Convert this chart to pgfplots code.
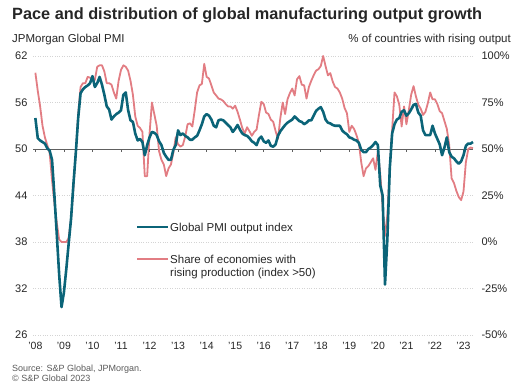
\documentclass[border=0pt]{standalone}
\usepackage{fontspec}
\setmainfont{Liberation Sans}
\usepackage{pgfplots}
\pgfplotsset{compat=1.18}
\definecolor{tealc}{HTML}{0B6478}
\definecolor{pinkc}{HTML}{E27D83}
\definecolor{gridc}{HTML}{D4D4D4}
\definecolor{txtc}{HTML}{262626}
\definecolor{srcc}{HTML}{595959}
\begin{document}
\begin{tikzpicture}[x=1pt,y=1pt]
\useasboundingbox (0,0) rectangle (521,386);
% right axis: share of economies (%), grid
\begin{axis}[
  at={(33pt,51pt)}, anchor=south west,
  scale only axis, width=440pt, height=279pt,
  xmin=-1, xmax=184, ymin=-50, ymax=100,
  axis y line*=right, axis x line=none,
  axis line style={draw=none},
  major tick length=0pt,
  ytick={-50,-25,0,25,50,75,100},
  yticklabels={-50\%,-25\%,0\%,25\%,50\%,75\%,100\%},
  yticklabel style={font=\fontsize{11}{12}\selectfont, text=txtc, anchor=west, xshift=5pt},
  ymajorgrids, grid style={gridc, dotted, line width=0.8pt},
  extra y ticks={50}, extra y tick labels={},
  extra y tick style={grid style={solid, draw=gray!75!black, line width=0.9pt}},
  clip=false,
]
\addplot[pinkc, line width=1.8pt, line join=round] coordinates {
(0,91) (1,81.3) (2,72.9) (3,62.5) (4,56.3) (5,52.1) (6,47.9) (7,33.3) (8,20.8) (9,10.4)
(10,1.3) (11,0) (12,0) (13,0) (14,2.1) (15,12.5) (16,29.2) (17,47.9) (18,68.8) (19,83.3)
(20,85.4) (21,85.4) (22,88.8) (23,88.3) (24,88.3) (25,87.1) (26,94.2) (27,95) (28,95) (29,91.7)
(30,85.4) (31,85.4) (32,84.6) (33,80.4) (34,77.1) (35,86.7) (36,92.5) (37,95) (38,94.2) (39,92.1)
(40,86.7) (41,79.2) (42,67.5) (43,62.5) (44,61.3) (45,59.2) (46,35.4) (47,35.4) (48,58.3) (49,75)
(50,68.8) (51,62.5) (52,48.8) (53,44.2) (54,41.7) (55,35.4) (56,39.6) (57,41.7) (58,47.9) (59,56.3)
(60,52.5) (61,51.3) (62,52.1) (63,56.7) (64,63.3) (65,63.8) (66,62.1) (67,70.8) (68,80.4) (69,84.2)
(70,85) (71,95.8) (72,88.8) (73,87.9) (74,84.2) (75,80.4) (76,78.8) (77,77.1) (78,76.7) (79,75.8)
(80,74.2) (81,72.9) (82,72.9) (83,71.7) (84,73.3) (85,70) (86,65.8) (87,61.3) (88,58.3) (89,61.7)
(90,59.6) (91,57.1) (92,59.2) (93,60.4) (94,68.3) (95,75.4) (96,74.2) (97,69.6) (98,68.8) (99,65.8)
(100,64.6) (101,59.6) (102,55.4) (103,66.7) (104,75) (105,68.8) (106,76.7) (107,80) (108,82.5) (109,78.8)
(110,87.5) (111,89.2) (112,84.6) (113,84.2) (114,77.1) (115,83.3) (116,86.7) (117,89.6) (118,92.1) (119,92.9)
(120,94.6) (121,100) (122,94.6) (123,89.6) (124,90.8) (125,86.3) (126,83.3) (127,82.5) (128,80.4) (129,77.1)
(130,72.1) (131,69.2) (132,59.2) (133,62.5) (134,60.8) (135,57.5) (136,53.3) (137,42.9) (138,35.4) (139,39.6)
(140,40.8) (141,42.9) (142,45) (143,38.8) (144,48.8) (145,36.7) (146,18.8) (147,3.3) (148,14.6) (149,39.6)
(150,60.4) (151,80.4) (152,78.3) (153,73.8) (154,62.1) (155,72.9) (156,63.3) (157,70.8) (158,79.2) (159,83.8)
(160,78.3) (161,73.8) (162,71.7) (163,68.3) (164,70) (165,74.6) (166,80.4) (167,76.7) (168,76.7) (169,74.2)
(170,70.4) (171,69.2) (172,65) (173,60.8) (174,52.1) (175,34.2) (176,31.7) (177,27.5) (178,24.2) (179,22.5)
(180,27.1) (181,42.9) (182,50) (183,50.8) (184,50.4)
};
\end{axis}
% left axis: PMI
\begin{axis}[
  at={(33pt,51pt)}, anchor=south west,
  scale only axis, width=440pt, height=279pt,
  xmin=-1, xmax=184, ymin=26, ymax=62,
  axis y line*=left, axis x line*=bottom,
  axis line style={draw=none},
  major tick length=0pt,
  ytick={26,32,38,44,50,56,62},
  yticklabel style={font=\fontsize{11}{12}\selectfont, text=txtc, xshift=-2pt},
  xtick={0,12,24,36,48,60,72,84,96,108,120,132,144,156,168,180},
  xticklabels={'08,'09,'10,'11,'12,'13,'14,'15,'16,'17,'18,'19,'20,'21,'22,'23},
  xticklabel style={font=\fontsize{10.5}{12}\selectfont, text=txtc, yshift=-4pt},
  /pgf/number format/assume math mode=true,
  clip=false,
]
\pgfplotsinvokeforeach{0,12,24,36,48,60,72,84,96,108,120,132,144,156,168,180}{
  \draw[gray!75!black, line width=0.6pt] (axis cs:#1,50) -- ([yshift=-3pt]axis cs:#1,50);
}
\addplot[tealc, line width=2.6pt, line join=round] coordinates {
(0,54.0) (1,51.4) (2,51.1) (3,50.9) (4,50.7) (5,50.1) (6,49.8) (7,48.6) (8,44.0) (9,39.0)
(10,33.8) (11,29.6) (12,31.5) (13,34.5) (14,37.8) (15,41.0) (16,45.5) (17,49.5) (18,54.0) (19,57.2)
(20,57.7) (21,58.0) (22,58.2) (23,58.5) (24,59.4) (25,58.0) (26,58.5) (27,59.3) (28,58.3) (29,57.0)
(30,55.5) (31,55.1) (32,53.8) (33,54.2) (34,54.5) (35,54.7) (36,55.0) (37,57.0) (38,57.3) (39,55.0)
(40,53.7) (41,53.5) (42,52.0) (43,51.1) (44,51.3) (45,50.9) (46,49.2) (47,50.5) (48,51.5) (49,52.2)
(50,52.1) (51,51.8) (52,51.0) (53,50.5) (54,49.5) (55,49.0) (56,48.6) (57,48.6) (58,49.9) (59,50.5)
(60,52.4) (61,51.8) (62,52.0) (63,51.7) (64,51.5) (65,51.2) (66,51.2) (67,51.5) (68,51.7) (69,52.4)
(70,53.2) (71,54.2) (72,54.5) (73,54.3) (74,53.8) (75,53.0) (76,52.8) (77,53.7) (78,53.8) (79,53.7)
(80,53.4) (81,53.1) (82,52.8) (83,52.2) (84,52.6) (85,53.1) (86,52.5) (87,52.0) (88,51.8) (89,51.7)
(90,51.4) (91,51.0) (92,50.8) (93,50.5) (94,51.3) (95,51.6) (96,51.0) (97,50.8) (98,51.1) (99,50.4)
(100,50.3) (101,50.6) (102,51.7) (103,52.3) (104,52.7) (105,53.1) (106,53.4) (107,53.6) (108,53.8) (109,54.2)
(110,53.9) (111,53.6) (112,53.5) (113,53.2) (114,53.4) (115,53.7) (116,53.7) (117,54.3) (118,54.9) (119,55.2)
(120,55.4) (121,54.8) (122,53.8) (123,53.4) (124,53.3) (125,53.1) (126,53.0) (127,53.0) (128,53.0) (129,52.4)
(130,52.1) (131,51.9) (132,51.5) (133,51.4) (134,51.2) (135,51.1) (136,50.8) (137,49.9) (138,49.6) (139,49.6)
(140,50.0) (141,50.2) (142,50.5) (143,50.9) (144,50.5) (145,45.3) (146,44.0) (147,32.5) (148,38.5) (149,47.5)
(150,52.0) (151,53.2) (152,53.8) (153,54.0) (154,54.8) (155,55.0) (156,54.3) (157,54.6) (158,55.1) (159,55.7)
(160,55.8) (161,54.7) (162,54.3) (163,52.4) (164,51.8) (165,51.8) (166,51.8) (167,53.0) (168,52.0) (169,51.3)
(170,50.6) (171,49.2) (172,50.2) (173,51.5) (174,49.6) (175,49.0) (176,48.8) (177,48.4) (178,48.1) (179,48.4)
(180,49.2) (181,50.4) (182,50.7) (183,50.7) (184,50.9)
};
\end{axis}
% titles and labels
\node[anchor=base west, font=\bfseries\fontsize{16.3}{18}\selectfont, text=txtc, inner sep=0pt] at (12,366) {Pace and distribution of global manufacturing output growth};
\node[anchor=base west, font=\fontsize{11.5}{13}\selectfont, text=txtc, inner sep=0pt] at (12,343) {JPMorgan Global PMI};
\node[anchor=base east, font=\fontsize{11.5}{13}\selectfont, text=txtc, inner sep=0pt] at (511,343) {\% of countries with rising output};
% legend
\draw[tealc, line width=2.6pt] (137,159) -- (168,159);
\node[anchor=base west, font=\fontsize{11.5}{13}\selectfont, text=txtc, inner sep=0pt] at (170,155) {Global PMI output index};
\draw[pinkc, line width=1.8pt] (137,127) -- (168,127);
\node[anchor=base west, font=\fontsize{11.5}{13}\selectfont, text=txtc, inner sep=0pt] at (170,123) {Share of economies with};
\node[anchor=base west, font=\fontsize{11.5}{13}\selectfont, text=txtc, inner sep=0pt] at (170,110) {rising production (index >50)};
% source
\node[anchor=base west, font=\fontsize{9}{10}\selectfont, text=srcc, inner sep=0pt] at (12,14.5) {Source: S\&P Global, JPMorgan.};
\node[anchor=base west, font=\fontsize{9}{10}\selectfont, text=srcc, inner sep=0pt] at (12,5) {© S\&P Global 2023};
\end{tikzpicture}
\end{document}
